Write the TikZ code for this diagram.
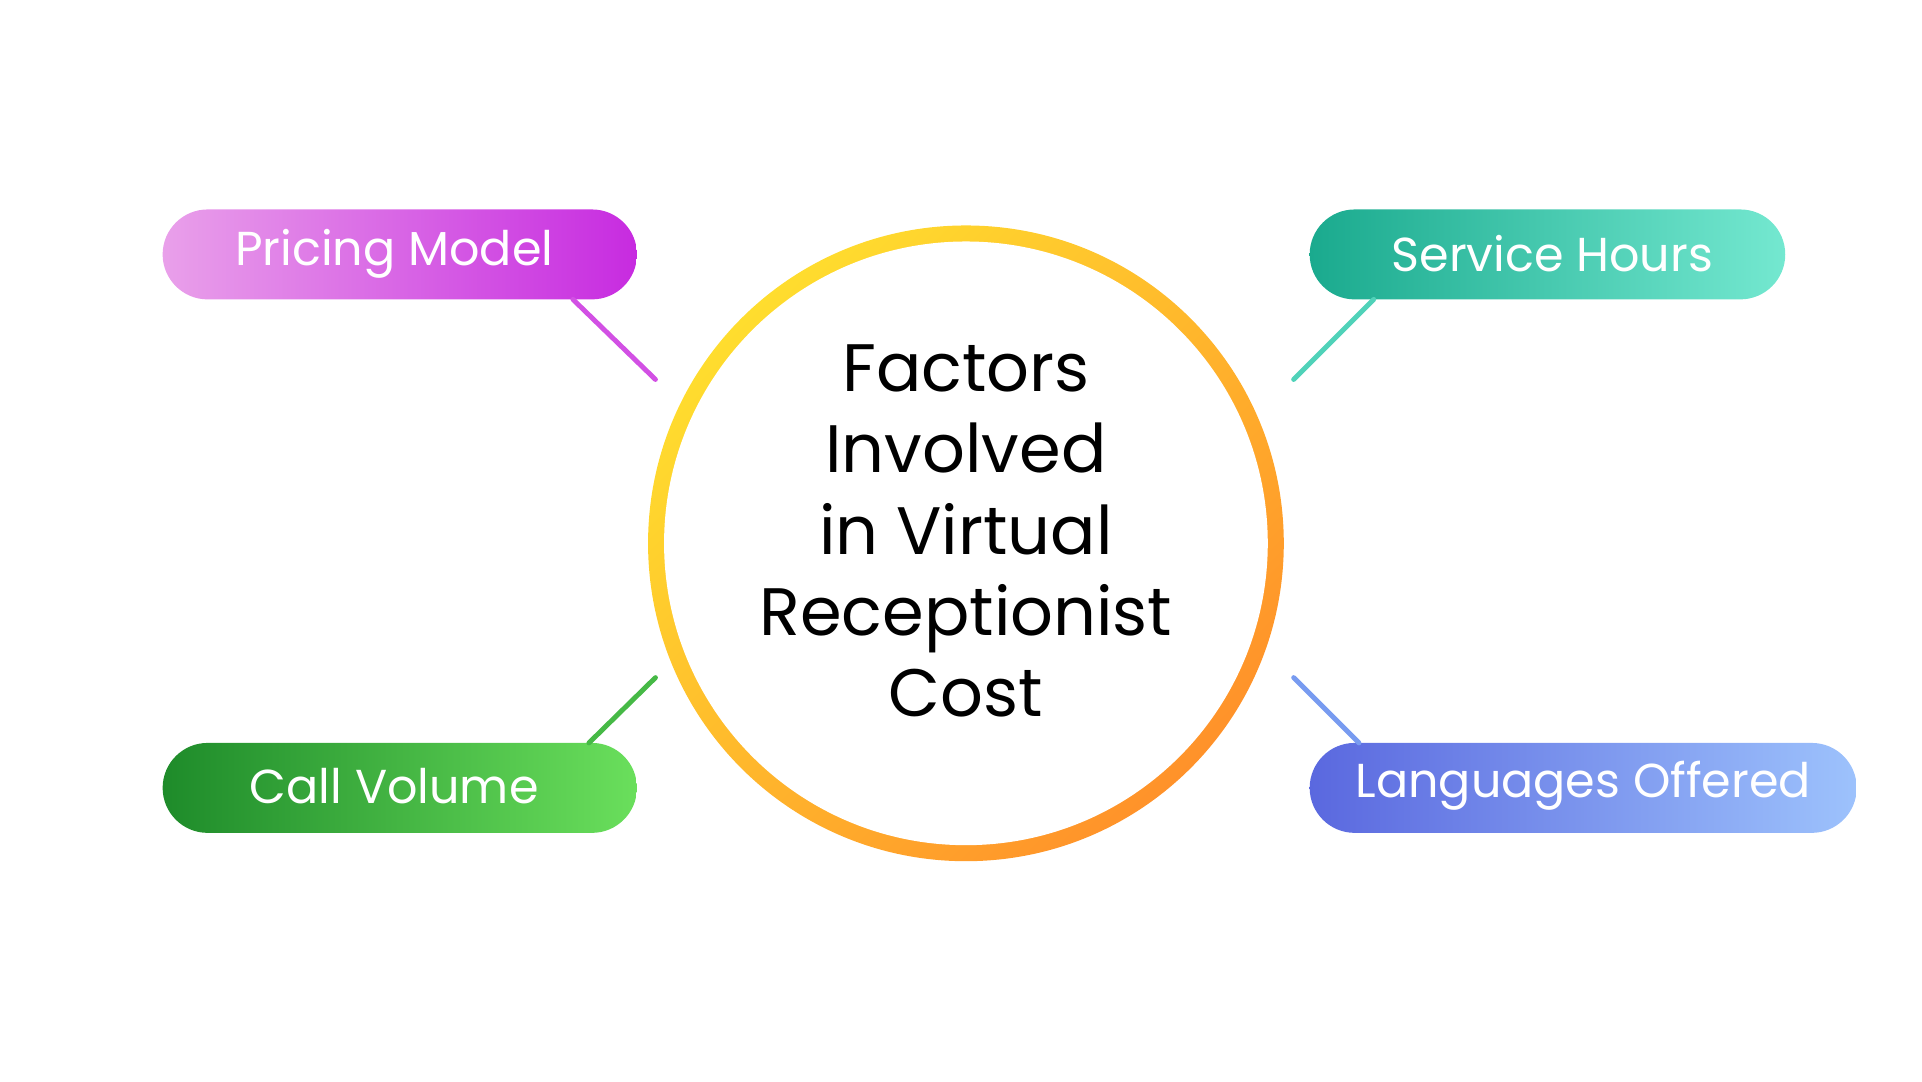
\documentclass[tikz,border=0pt]{standalone}
\usepackage{fontspec}
\setmainfont{Poppins}
\begin{document}
\begin{tikzpicture}[x=0.02cm,y=-0.02cm,
  pilltext/.style={text=white,font=\fontsize{22}{26}\selectfont,anchor=center},
  conn/.style={line width=0.08cm,line cap=round}]
\useasboundingbox (0,0) rectangle (1560,878);
\definecolor{yel}{HTML}{FFDD2E}\definecolor{ora}{HTML}{FF922A}
% ring
\shade[left color=yel,right color=ora,shading angle=45] (784,441) circle (0.02cm*258);
\fill[white] (784,441) circle (0.02cm*245);
\node[align=center,font=\fontsize{31}{37.5}\selectfont] (c) at (784,431) {Factors\\Involved\\in Virtual\\Receptionist\\Cost};
% pills
\shade[left color={rgb,255:red,233;green,160;blue,234},right color={rgb,255:red,199;green,43;blue,224},rounded corners=0.73cm] (132,170) rectangle (517,243);
\node[pilltext] (pm) at (320,206) {Pricing Model};
\shade[left color={rgb,255:red,26;green,170;blue,142},right color={rgb,255:red,116;green,232;blue,208},rounded corners=0.73cm] (1063,170) rectangle (1449,243);
\node[pilltext] (sh) at (1260,206) {Service Hours};
\shade[left color={rgb,255:red,30;green,139;blue,42},right color={rgb,255:red,106;green,223;blue,92},rounded corners=0.73cm] (132,603) rectangle (517,676);
\node[pilltext] (cv) at (320,638) {Call Volume};
\shade[left color={rgb,255:red,90;green,104;blue,223},right color={rgb,255:red,157;green,194;blue,252},rounded corners=0.73cm] (1063,603) rectangle (1507,676);
\node[pilltext] (lo) at (1285,638) {Languages Offered};
% connectors
\coordinate (a1) at (465,243); \coordinate (a2) at (532,308);
\coordinate (b1) at (1115,243); \coordinate (b2) at (1050,308);
\coordinate (c1) at (478,603); \coordinate (c2) at (532,550);
\coordinate (d1) at (1103,603); \coordinate (d2) at (1050,550);
\draw[conn,color={rgb,255:red,210;green,80;blue,228}] (a1) -- (a2);
\draw[conn,color={rgb,255:red,80;green,210;blue,185}] (b1) -- (b2);
\draw[conn,color={rgb,255:red,70;green,185;blue,70}] (c1) -- (c2);
\draw[conn,color={rgb,255:red,120;green,155;blue,240}] (d1) -- (d2);
\end{tikzpicture}
\end{document}
